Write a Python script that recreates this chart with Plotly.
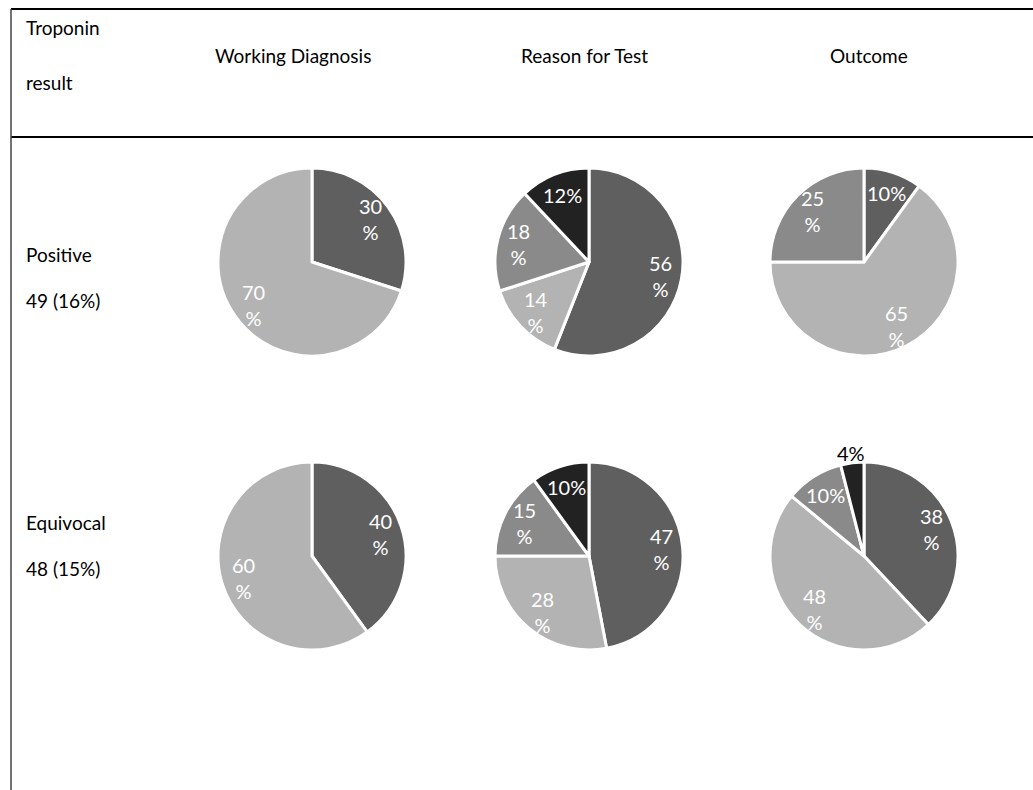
import math
import plotly.graph_objects as go

W, H = 1033, 790

# ---- data ----
columns = ["Working Diagnosis", "Reason for Test", "Outcome"]
rows = ["Positive", "Equivocal"]
row_counts = ["49 (16%)", "48 (15%)"]

pos_working = [30, 70]
pos_reason = [56, 14, 18, 12]
pos_outcome = [10, 65, 25]
equ_working = [40, 60]
equ_reason = [47, 28, 15, 10]
equ_outcome = [38, 48, 10, 4]

slice_colors = ["#5f5f5f", "#b3b3b3", "#8a8a8a", "#222222"]

# ---- layout geometry (pixels) ----
col_cx = [312, 589, 864]
row_cy = [262, 556]
R = 94
header_cx = [293, 584, 869]
label_x = 24
row_label_y = [(255, 300), (522, 568)]

series = [[pos_working, pos_reason, pos_outcome],
          [equ_working, equ_reason, equ_outcome]]

FONT = "Lato"
fig = go.Figure()
annotations = []

def px(x):
    return x / W

def py(y):
    return 1 - y / H

for ri, row in enumerate(series):
    for ci, vals in enumerate(row):
        cx, cy = col_cx[ci], row_cy[ri]
        fig.add_trace(go.Pie(
            values=vals,
            labels=[f"s{i}" for i in range(len(vals))],
            textinfo="none",
            sort=False,
            direction="clockwise",
            rotation=0,
            marker=dict(colors=slice_colors[:len(vals)], line=dict(color="white", width=3)),
            domain=dict(x=[px(cx - R), px(cx + R)], y=[py(cy + R), py(cy - R)]),
            showlegend=False,
            hoverinfo="skip",
        ))
        # data labels placed along each slice's bisector
        total = sum(vals)
        cum = 0
        for v in vals:
            theta = 2 * math.pi * (cum + v / 2) / total
            cum += v
            outside = v < 5
            r = R * (1.1 if outside else 0.77)
            lx = cx + r * math.sin(theta)
            ly = cy - r * math.cos(theta)
            s = f"{v}%" if v < 13 else f"{v}<br>%"
            annotations.append(dict(
                x=px(lx), y=py(ly), xref="paper", yref="paper", text=s,
                showarrow=False, xanchor="center", yanchor="middle",
                font=dict(family=FONT, size=20, color="black" if outside else "white")))

def txt(x, y, s, anchor="left"):
    annotations.append(dict(x=px(x), y=py(y), xref="paper", yref="paper",
                            text=s, showarrow=False, xanchor=anchor, yanchor="middle",
                            font=dict(family=FONT, size=19, color="black")))

txt(label_x, 28, "Troponin")
txt(label_x, 82, "result")
for ci, c in enumerate(columns):
    txt(header_cx[ci], 55, c, anchor="center")
for ri in range(2):
    txt(label_x, row_label_y[ri][0], rows[ri])
    txt(label_x, row_label_y[ri][1], row_counts[ri])

shapes = [
    dict(type="line", xref="paper", yref="paper", x0=px(11), x1=1, y0=py(9), y1=py(9),
         line=dict(color="black", width=2)),
    dict(type="line", xref="paper", yref="paper", x0=px(11), x1=1, y0=py(137), y1=py(137),
         line=dict(color="black", width=2)),
    dict(type="line", xref="paper", yref="paper", x0=px(11), x1=px(11), y0=0, y1=py(9),
         line=dict(color="#444444", width=1.5)),
]

fig.update_layout(
    width=W, height=H,
    margin=dict(l=0, r=0, t=0, b=0),
    paper_bgcolor="white", plot_bgcolor="white",
    annotations=annotations, shapes=shapes,
)

fig.write_html("out.html")
